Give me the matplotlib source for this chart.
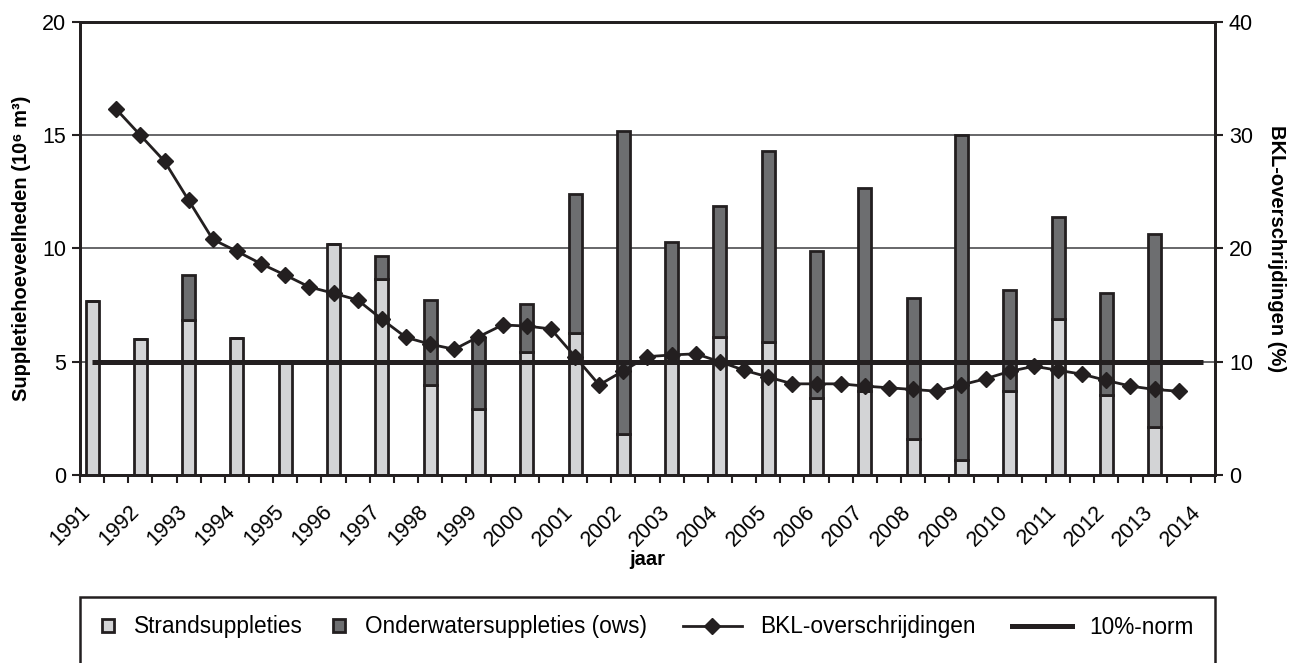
import numpy as np
import matplotlib
matplotlib.use("Agg")
import matplotlib.pyplot as plt
import matplotlib.transforms as mtransforms
from matplotlib.lines import Line2D
from matplotlib.patches import Patch, Rectangle

plt.rcParams['font.family'] = ['Liberation Sans', 'DejaVu Sans']

# jaarlijkse suppleties (10^6 m3)
jaren = list(range(1991, 2014))
strand = [7.7, 6.0, 6.84, 6.05, 5.0, 10.18, 8.65, 3.97, 2.93, 5.45, 6.29, 1.83,
          5.03, 6.1, 5.85, 3.4, 3.69, 1.59, 0.65, 3.72, 6.87, 3.53, 2.11]
ows = [0, 0, 2.0, 0, 0, 0, 1.03, 3.77, 3.12, 2.1, 6.11, 13.36,
       5.24, 5.78, 8.44, 6.47, 8.98, 6.23, 14.35, 4.46, 4.54, 4.52, 8.51]

# BKL-overschrijdingen (%) per half jaar, vanaf 1991.75
bkl_start = 1991.75
bkl = [32.3, 30.0, 27.7, 24.25, 20.8, 19.75, 18.65, 17.65, 16.6, 16.05,
       15.45, 13.75, 12.15, 11.55, 11.1, 12.2, 13.25, 13.15, 12.9, 10.45,
       7.95, 9.2, 10.45, 10.6, 10.7, 10.0, 9.25, 8.65, 8.05, 8.05,
       8.05, 7.85, 7.7, 7.55, 7.4, 7.95, 8.5, 9.15, 9.6, 9.25,
       8.9, 8.35, 7.85, 7.55, 7.4]
norm = 10
tick_jaren = list(range(1991, 2015))

licht = '#d3d4d6'
donker = '#6d6e70'
zwart = '#231f20'

fig = plt.figure(figsize=(12.91, 6.63), dpi=100)
ax = fig.add_axes([80 / 1291, (663 - 475) / 663, (1215 - 80) / 1291, (475 - 22) / 663])
ax2 = ax.twinx()

x = np.array(jaren) + 0.25
ax.bar(x, strand, width=0.27, color=licht, edgecolor=zwart, linewidth=2, zorder=2)
ax.bar(x, ows, bottom=strand, width=0.27, color=donker, edgecolor=zwart, linewidth=2, zorder=2)

ax.set_ylim(0, 20)
ax.set_yticks([0, 5, 10, 15, 20])
ax.set_xlim(1991, 2014.5)
ax.set_xticks(tick_jaren)
ax.set_xticks(np.array(tick_jaren) + 0.5, minor=True)
ax.set_xticklabels([str(j) for j in tick_jaren], rotation=45, ha='right',
                   rotation_mode='anchor', fontsize=15.5)
offset = mtransforms.ScaledTranslation(14 / 100, 0, fig.dpi_scale_trans)
for lbl in ax.get_xticklabels():
    lbl.set_transform(lbl.get_transform() + offset)
ax.grid(axis='y', color='#4d4d4f', linewidth=1.2)
ax.set_axisbelow(True)
ax.tick_params(axis='y', labelsize=15.5, length=6, width=1.5, color=zwart, pad=4)
ax.tick_params(axis='x', which='both', length=6, width=1.5, color=zwart, pad=13)
ax.set_ylabel('Suppletiehoeveelheden (10⁶ m³)', fontsize=14.5, fontweight='bold', labelpad=8)
ax.set_xlabel('jaar', fontsize=14.5, fontweight='bold', labelpad=0)

bkl_x = bkl_start + 0.5 * np.arange(len(bkl))
ax2.hlines(norm, jaren[0] + 0.25, tick_jaren[-1] + 0.25, color=zwart, linewidth=3.6, zorder=3)
ax2.plot(bkl_x, bkl, color=zwart, linewidth=2, marker='D', markersize=8, zorder=4)
ax2.set_ylim(0, 40)
ax2.set_yticks([0, 10, 20, 30, 40])
ax2.tick_params(axis='y', labelsize=15.5, length=6, width=1.5, color=zwart, pad=4)
ax2.set_ylabel('BKL-overschrijdingen (%)', fontsize=14.5, fontweight='bold',
               rotation=270, labelpad=24)

for a in (ax, ax2):
    for s in a.spines.values():
        s.set_color(zwart)
        s.set_linewidth(2)

# legenda
fig.add_artist(Rectangle((80 / 1291, -0.05), (1215 - 80) / 1291, (663 - 597) / 663 + 0.05,
                         transform=fig.transFigure, fill=False, edgecolor=zwart, linewidth=1.8))
ly = (663 - 627) / 663
items = [
    (Patch(facecolor=licht, edgecolor=zwart, linewidth=2), 'Strandsuppleties', 102, 0.55, 0.85),
    (Patch(facecolor=donker, edgecolor=zwart, linewidth=2), 'Onderwatersuppleties (ows)', 333, 0.55, 0.85),
    (Line2D([], [], color=zwart, linewidth=2, marker='D', markersize=8), 'BKL-overschrijdingen', 683, 2.6, 0.8),
    (Line2D([], [], color=zwart, linewidth=3.6), '10%-norm', 1012, 2.65, 0.75),
]
for h, t, xp, hl, pad in items:
    fig.legend([h], [t], loc='center left', bbox_to_anchor=(xp / 1291, ly), frameon=False,
               fontsize=16.3, handlelength=hl, handleheight=0.55, handletextpad=pad,
               borderpad=0, borderaxespad=0)

fig.savefig('out.png', dpi=100)
